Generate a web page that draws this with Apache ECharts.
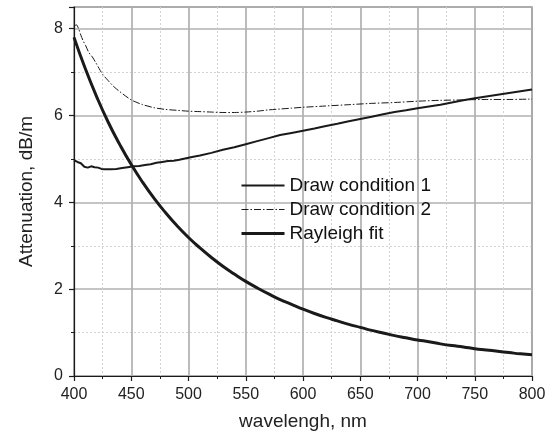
<!DOCTYPE html>
<html>
<head>
<meta charset="utf-8">
<script src="https://cdn.jsdelivr.net/npm/echarts@6/dist/echarts.min.js"></script>
<style>
  html, body { margin: 0; padding: 0; background: #fff; }
  #chart { width: 552px; height: 436px; }
</style>
</head>
<body>
<div id="chart"></div>
<script>
// Wavelength axis ticks (nm) and attenuation axis ticks (dB/m)
const xTicks = [400, 450, 500, 550, 600, 650, 700, 750, 800];
const yTicks = [0, 2, 4, 6, 8];

// Measured attenuation, draw condition 1: [wavelength nm, dB/m]
const drawCondition1 = [
  [400, 4.97], [403, 4.93], [406, 4.90], [409, 4.82], [412, 4.80], [415, 4.83],
  [418, 4.81], [421, 4.80], [424, 4.77], [427, 4.76], [432, 4.76], [437, 4.77],
  [442, 4.79], [447, 4.81], [452, 4.83], [457, 4.84], [462, 4.86], [467, 4.88],
  [472, 4.91], [477, 4.93], [482, 4.95], [487, 4.96], [492, 4.98], [497, 5.01],
  [502, 5.04], [510, 5.08], [520, 5.14], [530, 5.21], [540, 5.27], [550, 5.34],
  [560, 5.41], [570, 5.48], [580, 5.55], [590, 5.60], [600, 5.65], [610, 5.70],
  [620, 5.76], [630, 5.81], [640, 5.87], [650, 5.92], [660, 5.97], [670, 6.03],
  [680, 6.08], [690, 6.12], [700, 6.17], [710, 6.21], [720, 6.25], [730, 6.30],
  [740, 6.35], [750, 6.40], [760, 6.44], [770, 6.48], [780, 6.52], [790, 6.56],
  [800, 6.60]
];

// Measured attenuation, draw condition 2: [wavelength nm, dB/m]
const drawCondition2 = [
  [400, 8.05], [402, 8.09], [404, 8.00], [406, 7.85], [408, 7.72], [410, 7.62],
  [413, 7.45], [416, 7.35], [419, 7.22], [422, 7.08], [425, 6.95], [430, 6.80],
  [435, 6.66], [440, 6.55], [445, 6.45], [450, 6.36], [455, 6.30], [460, 6.25],
  [470, 6.18], [480, 6.14], [490, 6.12], [500, 6.10], [510, 6.09], [520, 6.08],
  [530, 6.07], [540, 6.07], [550, 6.08], [560, 6.10], [570, 6.13], [580, 6.15],
  [590, 6.17], [600, 6.19], [620, 6.22], [640, 6.25], [660, 6.28], [680, 6.30],
  [700, 6.33], [720, 6.35], [740, 6.36], [760, 6.37], [780, 6.37], [800, 6.38]
];

// Rayleigh scattering fit: [wavelength nm, dB/m]
const rayleighFit = [
  [400, 7.80], [410, 7.07], [420, 6.42], [430, 5.84], [440, 5.33], [450, 4.87],
  [460, 4.46], [470, 4.09], [480, 3.76], [490, 3.46], [500, 3.19], [510, 2.95],
  [520, 2.73], [530, 2.53], [540, 2.35], [550, 2.18], [560, 2.03], [570, 1.89],
  [580, 1.76], [590, 1.65], [600, 1.54], [610, 1.44], [620, 1.35], [630, 1.27],
  [640, 1.19], [650, 1.12], [660, 1.05], [670, 0.99], [680, 0.93], [690, 0.88],
  [700, 0.83], [710, 0.79], [720, 0.74], [730, 0.70], [740, 0.67], [750, 0.63],
  [760, 0.60], [770, 0.57], [780, 0.54], [790, 0.51], [800, 0.49]
];

const FONT = '"Liberation Sans", Arial, Helvetica, sans-serif';
const INK = '#1a1a1a';

const chart = echarts.init(document.getElementById('chart'), null, { renderer: 'canvas' });

function axisCommon(ticks) {
  return {
    min: ticks[0],
    interval: ticks[1] - ticks[0],
    axisLine: { show: true, onZero: false, lineStyle: { color: INK, width: 1.2 } },
    axisTick: { show: true, inside: false, length: 5, lineStyle: { color: INK, width: 1.2 } },
    minorTick: { show: true, splitNumber: 2, length: 3, lineStyle: { color: INK, width: 1 } },
    splitLine: { show: true, lineStyle: { color: '#b0b0b0', width: 1.7, type: 'solid' } },
    minorSplitLine: { show: true, lineStyle: { color: '#d2d2d2', width: 1, type: [2, 2] } },
    axisLabel: { color: '#222', fontFamily: FONT, fontSize: 16, margin: 11 },
    nameLocation: 'middle',
    nameTextStyle: { color: '#222', fontFamily: FONT, fontSize: 19 }
  };
}

chart.setOption({
  animation: false,
  backgroundColor: '#fff',
  grid: {
    left: 74, right: 20, top: 7, bottom: 60,
    show: true, borderColor: '#444', borderWidth: 1.2, backgroundColor: 'transparent'
  },
  xAxis: Object.assign(axisCommon(xTicks), {
    type: 'value',
    max: xTicks[xTicks.length - 1],
    name: 'wavelengh, nm',
    nameGap: 36
  }),
  yAxis: Object.assign(axisCommon(yTicks), {
    type: 'value',
    max: 8.5,
    name: 'Attenuation, dB/m',
    nameGap: 38,
    axisLabel: {
      color: '#222', fontFamily: FONT, fontSize: 16, margin: 11,
      formatter: v => (yTicks.indexOf(v) >= 0 ? String(v) : '')
    }
  }),
  legend: {
    orient: 'vertical',
    left: 235,
    top: 171,
    itemWidth: 43,
    itemHeight: 14,
    itemGap: 5,
    itemStyle: { opacity: 0 },
    textStyle: { color: '#111', fontFamily: FONT, fontSize: 19 },
    data: [
      { name: 'Draw condition 1', lineStyle: { width: 2 } },
      { name: 'Draw condition 2', lineStyle: { width: 1 } },
      { name: 'Rayleigh fit', lineStyle: { width: 3 } }
    ]
  },
  series: [
    {
      name: 'Draw condition 1',
      type: 'line',
      data: drawCondition1,
      symbol: 'none',
      lineStyle: { color: INK, width: 2 },
      itemStyle: { color: INK },
      z: 3
    },
    {
      name: 'Draw condition 2',
      type: 'line',
      data: drawCondition2,
      symbol: 'none',
      smooth: 0.3,
      lineStyle: { color: INK, width: 1, type: [7, 2, 1.5, 2] },
      itemStyle: { color: INK },
      z: 3
    },
    {
      name: 'Rayleigh fit',
      type: 'line',
      data: rayleighFit,
      symbol: 'none',
      smooth: true,
      lineStyle: { color: INK, width: 3 },
      itemStyle: { color: INK },
      z: 4
    }
  ]
});
</script>
</body>
</html>
